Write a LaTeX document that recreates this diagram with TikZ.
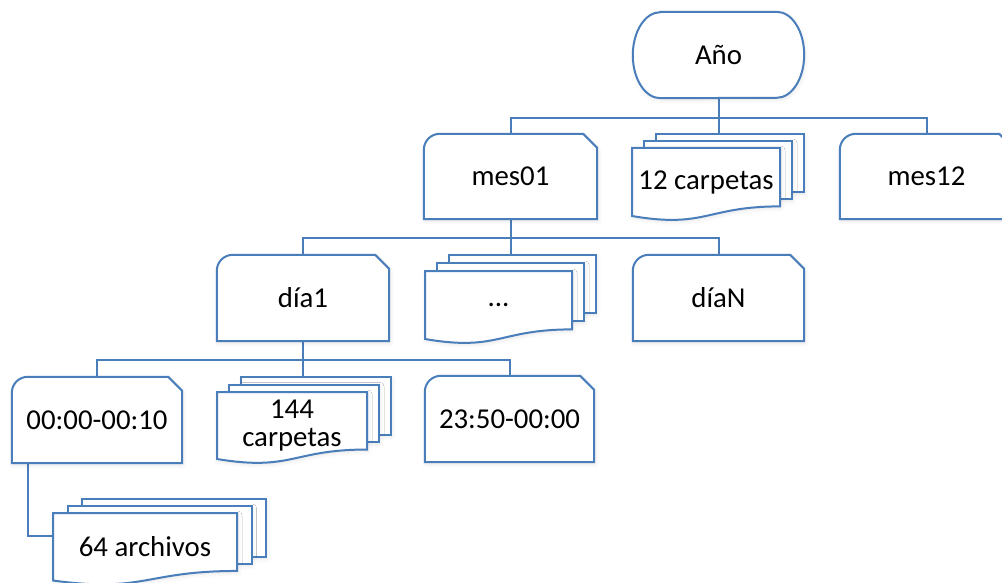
\documentclass[tikz,border=0pt]{standalone}
\usepackage{fontspec}
\setmainfont{Carlito}
\usetikzlibrary{calc,shadows.blur}
\definecolor{ol}{RGB}{74,126,187}
\pgfdeclarelayer{bg}\pgfdeclarelayer{shp}
\pgfsetlayers{bg,shp,main}
\tikzset{
  txt/.style={inner sep=0pt, font=\fontsize{28.8}{28}\selectfont, align=center, text=black},
  outl/.style={draw=ol, line width=2pt, fill=white, line join=miter,
    blur shadow={shadow xshift=1pt, shadow yshift=-2pt, shadow blur radius=4pt, shadow opacity=10}},
  conn/.style={draw=ol, line width=2pt},
  grp/.style={inner sep=0pt, draw=none},
}
% snipped + rounded box: name, x, y, w, h, text
\newcommand\snipbox[6]{%
  \node[txt, minimum width=#4pt, minimum height=#5pt] (#1) at (#2+#4/2, #3+#5/2) {#6};
  \begin{pgfonlayer}{shp}
  \path[outl] (#1.south west) -- ([yshift=-16pt]#1.north west)
     arc[start angle=180, end angle=90, radius=16pt]
     -- ([xshift=-14pt]#1.north east) -- ([yshift=-14pt]#1.north east)
     -- (#1.south east) -- cycle;
  \end{pgfonlayer}
}
% multidocument: name, x, y (front top-left), w, H, dx, dy, text
\newcommand\mdoc[8]{%
  \pgfmathsetmacro\ra{0.8587*#5}%
  \pgfmathsetmacro\rb{1.186*#5}%
  \begin{pgfonlayer}{shp}
  \foreach \k in {2,1}{
    \path[outl] (#2+\k*#6, #3-\k*#7) rectangle (#2+#4+\k*#6, #3+\ra-\k*#7);
  }
  \path[outl] (#2,#3) -- (#2+#4,#3) -- (#2+#4,#3+\ra)
     .. controls (#2+#4/2,#3+\ra) and (#2+#4/2,#3+\rb) .. (#2,#3+#5) -- cycle;
  \end{pgfonlayer}
  \node[txt] (#1) at (#2+#4/2, #3+#5/2) {#8};
  \node[grp, minimum width=#4pt+2*#6pt, minimum height=#5pt+2*#7pt]
     (#1g) at (#2+#4/2+#6, #3+#5/2-#7) {};
}
\begin{document}
\begin{tikzpicture}[x=1pt, y=-1pt]
\useasboundingbox (0,0) rectangle (1002,583);
\clip (0,0) rectangle (1002,583);

% Año (terminator)
\node[txt, minimum width=171pt, minimum height=86pt] (ano) at (718.5,55) {Año};
\begin{pgfonlayer}{shp}
\path[outl] ([xshift=27.5pt]ano.north west) -- ([xshift=-27.5pt]ano.north east)
   arc[start angle=90, end angle=-90, x radius=27.5pt, y radius=43pt]
   -- ([xshift=27.5pt]ano.south west)
   arc[start angle=270, end angle=90, x radius=27.5pt, y radius=43pt] -- cycle;
\end{pgfonlayer}

\snipbox{mes01}{424}{134}{173}{85}{mes01}
\snipbox{mes12}{840}{134}{173}{85}{mes12}
\mdoc{c12}{632}{148}{148}{68}{12}{7}{12 carpetas}

\snipbox{dia1}{217}{255}{172}{86}{día1}
\snipbox{diaN}{633}{255}{171}{86}{díaN}
\mdoc{dots}{425}{271}{147}{68}{12}{8}{...}

\snipbox{t1}{12}{377}{170}{86}{00:00-00:10}
\snipbox{t2}{425}{376}{169}{86}{23:50-00:00}
\mdoc{c144}{217}{392}{150}{67}{12}{7.5}{144\\carpetas}

\mdoc{a64}{53}{513}{184}{67.5}{14.5}{7}{64 archivos}

\coordinate (bus1) at (0,118);
\coordinate (bus2) at (0,238);
\coordinate (bus3) at (0,360);

\begin{pgfonlayer}{bg}
\draw[conn] (ano.south) -- (ano.south |- c12g.north);
\draw[conn] (mes01.north) -- (mes01.north |- bus1) -- (mes12.north |- bus1) -- (mes12.north);
\draw[conn] (mes01.south) -- (mes01.south |- dotsg.north);
\draw[conn] (dia1.north) -- (dia1.north |- bus2) -- (diaN.north |- bus2) -- (diaN.north);
\draw[conn] (dia1.south) -- (dia1.south |- c144g.north);
\draw[conn] (t1.north) -- (t1.north |- bus3) -- (t2.north |- bus3) -- (t2.north);
\draw[conn] ([xshift=16pt]t1.south west) |- ([yshift=4pt]a64g.west -| a64.west);
\end{pgfonlayer}
\end{tikzpicture}
\end{document}
